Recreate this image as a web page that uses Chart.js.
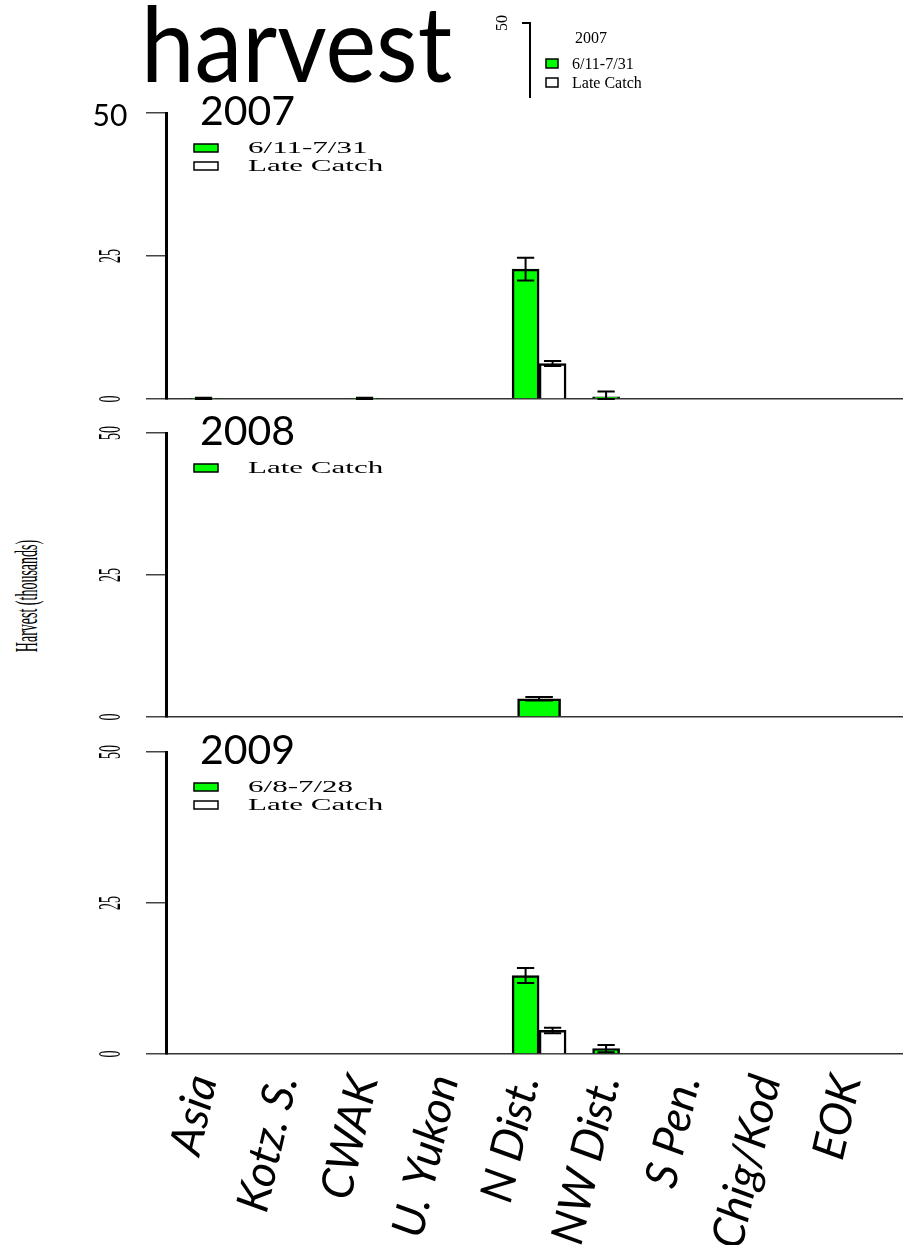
<!DOCTYPE html>
<html>
<head>
<meta charset="utf-8">
<script src="https://cdn.jsdelivr.net/npm/chart.js@4.4.1/dist/chart.umd.min.js"></script>
<style>
html, body { margin: 0; padding: 0; background: #fff; overflow: hidden; }
#page { position: relative; width: 903px; height: 1245px; overflow: hidden; }
canvas { position: absolute; }
.txt { position: absolute; white-space: nowrap; color: #000; }
#title { left: 141px; top: -3px; font: 96px Lato, sans-serif; line-height: 1;
         transform: scaleY(1.1); transform-origin: 0 87px; }
#ylab { left: 28px; top: 596px; font: 14px "Liberation Serif", serif; line-height: 1;
        transform: translate(-50%, -50%) rotate(-90deg) scaleY(2.3); }
</style>
</head>
<body>
<div id="page">
  <div id="title" class="txt">harvest</div>
  <div id="ylab" class="txt">Harvest (thousands)</div>
  <canvas id="inset" width="250" height="98" style="left:430px;top:0"></canvas>
  <canvas id="c2007" width="903" height="322" style="left:0;top:88px"></canvas>
  <canvas id="c2008" width="903" height="323" style="left:0;top:405px"></canvas>
  <canvas id="c2009" width="903" height="521" style="left:0;top:724px"></canvas>
</div>
<script>
const regions = ['Asia', 'Kotz. S.', 'CWAK', 'U. Yukon', 'N Dist.', 'NW Dist.', 'S Pen.', 'Chig/Kod', 'EOK'];
const yTicks = [0, 25, 50];

// 2007
const early2007    = [0.1, 0, 0.1, 0, 22.7, 0.4, 0, 0, 0];
const early2007Err = [0.1, 0, 0.1, 0, 2.0, 0.9, 0, 0, 0];
const late2007     = [0, 0, 0, 0, 6.2, 0, 0, 0, 0];
const late2007Err  = [0, 0, 0, 0, 0.45, 0, 0, 0, 0];

// 2008
const late2008     = [0, 0, 0, 0, 3.2, 0, 0, 0, 0];
const late2008Err  = [0, 0, 0, 0, 0.3, 0, 0, 0, 0];

// 2009
const early2009    = [0, 0, 0, 0, 13.0, 0.9, 0, 0, 0];
const early2009Err = [0, 0, 0, 0, 1.25, 0.6, 0, 0, 0];
const late2009     = [0, 0, 0, 0, 3.9, 0, 0, 0, 0];
const late2009Err  = [0, 0, 0, 0, 0.45, 0, 0, 0, 0];

const GREEN = '#00ff00';
const pts = vals => vals.map((v, i) => ({ x: i, y: v }));

// error bars drawn from the y scale
const errorBars = {
  id: 'errorBars',
  afterDatasetsDraw(chart) {
    const ctx = chart.ctx, ys = chart.scales.y;
    chart.data.datasets.forEach((ds, i) => {
      if (!ds.errors) return;
      chart.getDatasetMeta(i).data.forEach((bar, j) => {
        const e = ds.errors[j];
        if (!e) return;
        const v = ds.data[j].y;
        const top = ys.getPixelForValue(v + e);
        const bot = ys.getPixelForValue(Math.max(v - e, 0));
        const half = bar.width * 0.32;
        ctx.save();
        ctx.strokeStyle = '#000';
        ctx.lineWidth = 2;
        ctx.beginPath();
        ctx.moveTo(bar.x, top); ctx.lineTo(bar.x, bot);
        ctx.moveTo(bar.x - half, top); ctx.lineTo(bar.x + half, top);
        ctx.moveTo(bar.x - half, bot); ctx.lineTo(bar.x + half, bot);
        ctx.stroke();
        ctx.restore();
      });
    });
  }
};

// rotated, stretched R-style tick labels
const yLabels = {
  id: 'yLabels',
  afterDraw(chart, args, o) {
    const s = chart.scales.y, ctx = chart.ctx;
    s.ticks.forEach(t => {
      const py = s.getPixelForValue(t.value);
      ctx.save();
      ctx.fillStyle = '#000';
      ctx.textAlign = 'center';
      ctx.textBaseline = 'middle';
      if (o.bigTop && t.value === s.max) {
        ctx.font = '30px Lato';
        ctx.fillText(String(t.value), s.right - 56, py + 3);
      } else {
        ctx.translate(s.right - o.dx, py);
        ctx.rotate(-Math.PI / 2);
        ctx.scale(1, o.stretch);
        ctx.font = o.size + 'px "Liberation Serif"';
        ctx.fillText(String(t.value), 0, 0);
      }
      ctx.restore();
    });
  }
};

// year heading + legend inside each panel
const panelKey = {
  id: 'panelKey',
  afterDraw(chart, args, o) {
    const a = chart.chartArea, ctx = chart.ctx;
    ctx.save();
    ctx.fillStyle = '#000';
    ctx.textBaseline = 'alphabetic';
    if (o.year) {
      ctx.font = o.yearFont;
      ctx.textAlign = o.yearAlign;
      ctx.fillText(o.year, a.left + o.yearX, a.top + o.yearY);
    }
    chart.data.datasets.forEach((ds, i) => {
      const bx = a.left + o.boxX, by = a.top + o.rowY + i * o.rowH;
      ctx.fillStyle = ds.backgroundColor;
      ctx.fillRect(bx, by, o.boxW, o.boxH);
      ctx.strokeStyle = '#000';
      ctx.lineWidth = 1.5;
      ctx.strokeRect(bx, by, o.boxW, o.boxH);
      ctx.save();
      ctx.translate(a.left + o.textX, by + o.boxH + 1);
      ctx.scale(o.stretch, 1);
      ctx.font = o.font;
      ctx.fillStyle = '#000';
      ctx.textAlign = 'left';
      ctx.fillText(ds.label, 0, 0);
      ctx.restore();
    });
    ctx.restore();
  }
};

const xMin = -0.634, xMax = 8.52;

function yAxis() {
  return {
    min: 0, max: 50,
    afterBuildTicks: s => { s.ticks = yTicks.map(v => ({ value: v })); },
    afterFit: s => { s.width = 166; s.paddingTop = 0; s.paddingBottom = 0; },
    ticks: { display: false },
    grid: { drawOnChartArea: false, drawTicks: true, tickLength: 20, color: '#444', lineWidth: 1.5 },
    border: { display: true, color: '#000', width: 3 }
  };
}

function xAxis(showLabels) {
  return {
    type: 'linear', min: xMin, max: xMax, offset: false,
    afterBuildTicks: s => { s.ticks = regions.map((r, i) => ({ value: i })); },
    afterFit: s => { s.height = showLabels ? 191 : 0; s.paddingLeft = 0; s.paddingRight = 0; },
    ticks: {
      display: showLabels,
      callback: v => regions[v],
      autoSkip: false, minRotation: 77, maxRotation: 77, padding: 16, labelOffset: -14,
      color: '#000',
      font: { family: 'Lato', style: 'italic', size: 45 }
    },
    grid: { display: false, drawTicks: false, offset: false },
    border: { display: true, color: '#333', width: 1.5 }
  };
}

const keyOpts = {
  yearFont: '41px Lato', yearAlign: 'left', yearX: 34, yearY: 12,
  boxX: 28, rowY: 31, rowH: 18, boxW: 24, boxH: 8,
  textX: 82, font: '16.5px "Liberation Serif"', stretch: 1.88
};

function panel(id, year, datasets, padTop, padBottom, showLabels, bigTop) {
  new Chart(document.getElementById(id), {
    type: 'bar',
    data: { datasets },
    plugins: [errorBars, yLabels, panelKey],
    options: {
      responsive: false, animation: false, events: [],
      layout: { padding: { top: padTop, bottom: padBottom, left: 0, right: 0 } },
      scales: { x: xAxis(showLabels), y: yAxis() },
      plugins: {
        legend: { display: false }, tooltip: { enabled: false },
        yLabels: { dx: 54, size: 14, stretch: 2.3, bigTop },
        panelKey: Object.assign({ year }, keyOpts)
      }
    }
  });
}

const barStyle = (label, vals, errs, color, width) => ({
  label, data: pts(vals), errors: errs,
  backgroundColor: color, borderColor: '#000', borderWidth: 2.5, barThickness: width
});

panel('c2007', '2007', [
  barStyle('6/11-7/31', early2007, early2007Err, GREEN, 27),
  barStyle('Late Catch', late2007, late2007Err, '#fff', 27)
], 25, 11, false, true);

panel('c2008', '2008', [
  barStyle('Late Catch', late2008, late2008Err, GREEN, 43)
], 28, 11, false, false);

panel('c2009', '2009', [
  barStyle('6/8-7/28', early2009, early2009Err, GREEN, 27),
  barStyle('Late Catch', late2009, late2009Err, '#fff', 27)
], 28, 0, true, false);

// small leftover axis + key at the top right
new Chart(document.getElementById('inset'), {
  type: 'bar',
  data: {
    datasets: [
      { label: '6/11-7/31', data: [], backgroundColor: GREEN },
      { label: 'Late Catch', data: [], backgroundColor: '#fff' }
    ]
  },
  plugins: [yLabels, panelKey],
  options: {
    responsive: false, animation: false, events: [],
    layout: { padding: { top: 23, bottom: 1, left: 0, right: 0 } },
    scales: {
      x: { type: 'linear', min: 0, max: 1, display: false },
      y: {
        min: 0, max: 50,
        afterBuildTicks: s => { s.ticks = [{ value: 50 }]; },
        afterFit: s => { s.width = 100; s.paddingTop = 0; s.paddingBottom = 0; },
        ticks: { display: false },
        grid: { drawOnChartArea: false, drawTicks: true, tickLength: 8, color: '#000', lineWidth: 2 },
        border: { display: true, color: '#000', width: 2 }
      }
    },
    plugins: {
      legend: { display: false }, tooltip: { enabled: false },
      yLabels: { dx: 27, size: 16, stretch: 1, bigTop: false },
      panelKey: {
        year: '2007', yearFont: '16px "Liberation Serif"', yearAlign: 'center', yearX: 61, yearY: 20,
        boxX: 16, rowY: 36, rowH: 19, boxW: 12, boxH: 9,
        textX: 42, font: '16px "Liberation Serif"', stretch: 1
      }
    }
  }
});
</script>
</body>
</html>
